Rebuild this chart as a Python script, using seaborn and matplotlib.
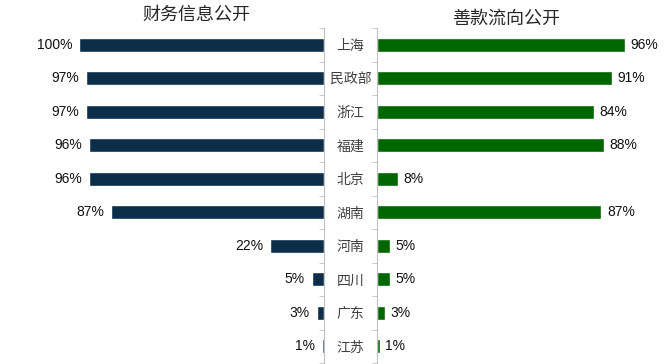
import pandas as pd
import matplotlib.pyplot as plt
import seaborn as sns
from matplotlib.ticker import FixedLocator

regions = ['上海', '民政部', '浙江', '福建', '北京', '湖南', '河南', '四川', '广东', '江苏']
finance = [100, 97, 97, 96, 96, 87, 22, 5, 3, 1]
donation = [96, 91, 84, 88, 8, 87, 5, 5, 3, 1]

sns.set_style('white')
plt.rcParams['font.family'] = ['Liberation Sans', 'Noto Sans CJK SC', 'DejaVu Sans']

df = pd.DataFrame({'region': regions, 'finance': finance, 'donation': donation})

fig = plt.figure(figsize=(6.72, 3.64), dpi=100)
W, H = 672, 364
ax1 = fig.add_axes([79 / W, 1 / H, 245 / W, 335 / H])
ax2 = fig.add_axes([377 / W, 1 / H, 258 / W, 335 / H])

sns.barplot(data=df, x='finance', y='region', orient='h', color='#0c2e4b',
            width=0.42, saturation=1, ax=ax1)
sns.barplot(data=df, x='donation', y='region', orient='h', color='#006600',
            width=0.42, saturation=1, ax=ax2)

ax1.set_xlim(100, 0)
ax2.set_xlim(0, 100)
bounds = [i - 0.5 for i in range(len(regions) + 1)]

for ax in (ax1, ax2):
    ax.set_xlabel('')
    ax.set_ylabel('')
    ax.set_xticks([])
    ax.set_ylim(len(regions) - 0.5, -0.5)
    for s in ax.spines.values():
        s.set_visible(False)
    ax.yaxis.set_minor_locator(FixedLocator(bounds))

# left panel: axis line on the right, ticks pointing left
ax1.spines['right'].set_visible(True)
ax1.spines['right'].set_color('#c0c0c0')
ax1.yaxis.tick_right()
ax1.tick_params(axis='y', which='major', length=0, labelright=False)
ax1.tick_params(axis='y', which='minor', right=True, direction='in', length=3.5,
                color='#c0c0c0')

# right panel: axis line on the left, category names in the gap
ax2.spines['left'].set_visible(True)
ax2.spines['left'].set_color('#c0c0c0')
ax2.tick_params(axis='y', which='major', length=0, pad=19, labelsize=10,
                labelcolor='#404040')
ax2.tick_params(axis='y', which='minor', left=True, direction='out', length=3.5,
                color='#c0c0c0')
for lbl in ax2.get_yticklabels():
    lbl.set_horizontalalignment('center')

ax1.bar_label(ax1.containers[0], fmt='%d%%', padding=5, fontsize=10, color='#111111')
ax2.bar_label(ax2.containers[0], fmt='%d%%', padding=4, fontsize=10, color='#111111')

fig.text(196 / W, 1 - 15 / H, '财务信息公开', ha='center', va='center', fontsize=13)
fig.text(506 / W, 1 - 19 / H, '善款流向公开', ha='center', va='center', fontsize=13)

fig.savefig('out.png', dpi=100)
